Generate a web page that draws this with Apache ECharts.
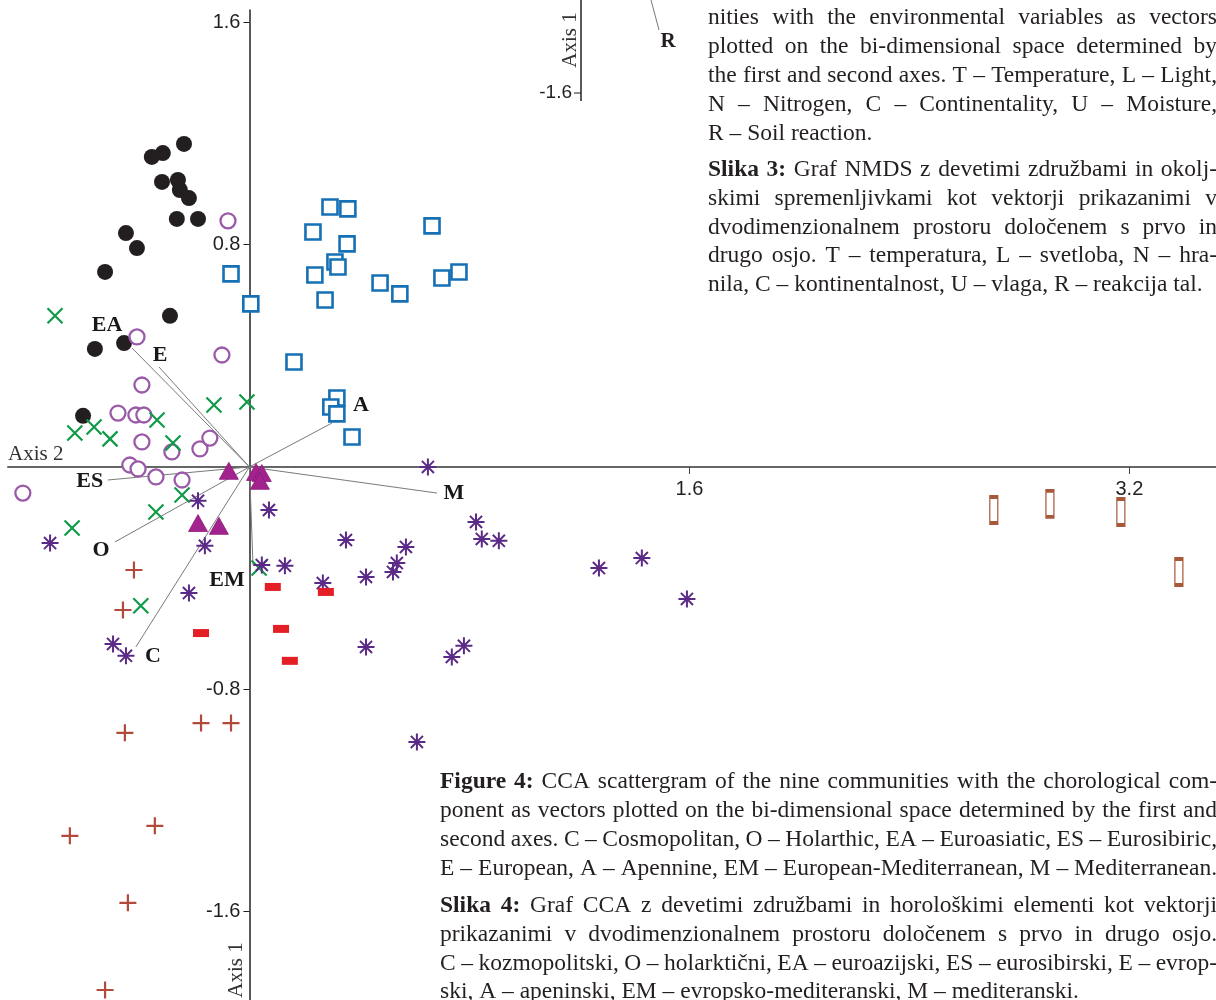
<!DOCTYPE html>
<html><head><meta charset="utf-8">
<script src="https://cdn.jsdelivr.net/npm/echarts@6/dist/echarts.min.js"></script>
<style>html,body{margin:0;padding:0;background:#fff;}#c{width:1216px;height:1000px;}</style>
</head><body><div id="c"></div>
<script>
// ---------- DATA ----------
const xTicks = [1.6, 3.2];
const yTicks = [-1.6, -0.8, 0.8, 1.6];

const vectorNames = ['EA', 'E', 'A', 'ES', 'O', 'C', 'EM', 'M'];
const vectorX = [-0.427, -0.329, 0.300, -0.515, -0.489, -0.413, 0.013, 0.682];
const vectorY = [0.428, 0.360, 0.158, -0.047, -0.270, -0.648, -0.353, -0.094];

const blackDots = [[-0.238,1.163],[-0.315,1.130],[-0.355,1.116],[-0.318,1.026],[-0.260,1.033],[-0.253,0.997],[-0.220,0.968],[-0.264,0.893],[-0.187,0.893],[-0.449,0.842],[-0.409,0.788],[-0.525,0.702],[-0.289,0.544],[-0.562,0.425],[-0.456,0.446],[-0.605,0.184]];
const purpleRings = [[-0.078,0.886],[-0.409,0.468],[-0.100,0.403],[-0.391,0.295],[-0.478,0.194],[-0.413,0.187],[-0.384,0.187],[-0.391,0.090],[-0.282,0.054],[-0.180,0.065],[-0.144,0.104],[-0.435,0.007],[-0.405,-0.007],[-0.340,-0.036],[-0.245,-0.047],[-0.824,-0.094]];
const greenCrosses = [[-0.707,0.544],[-0.129,0.223],[-0.009,0.234],[-0.336,0.169],[-0.565,0.144],[-0.635,0.122],[-0.507,0.101],[-0.278,0.086],[-0.245,-0.101],[-0.340,-0.162],[-0.645,-0.220],[0.035,-0.364],[-0.395,-0.500]];
const blueSquares = [[0.293,0.936],[0.358,0.929],[0.231,0.846],[0.355,0.803],[0.664,0.868],[0.311,0.738],[0.322,0.720],[0.238,0.691],[-0.067,0.695],[0.475,0.662],[0.547,0.623],[0.700,0.680],[0.762,0.702],[0.275,0.601],[0.005,0.587],[0.162,0.378],[0.318,0.248],[0.296,0.216],[0.318,0.191],[0.373,0.108]];
const magentaTriangles = [[-0.075,-0.014],[0.024,-0.018],[0.045,-0.022],[0.038,-0.050],[-0.187,-0.202],[-0.111,-0.212]];
const violetStars = [[0.649,0.000],[0.071,-0.155],[-0.187,-0.122],[-0.162,-0.284],[0.351,-0.263],[0.824,-0.198],[0.845,-0.259],[0.907,-0.266],[0.569,-0.288],[0.536,-0.346],[0.522,-0.378],[0.424,-0.396],[0.267,-0.418],[0.045,-0.353],[0.129,-0.356],[-0.220,-0.454],[0.424,-0.648],[0.780,-0.644],[0.736,-0.684],[0.609,-0.990],[-0.725,-0.274],[-0.496,-0.637],[-0.449,-0.680],[1.271,-0.364],[1.427,-0.328],[1.591,-0.475]];
const redBars = [[0.085,-0.432],[0.278,-0.450],[0.115,-0.583],[-0.176,-0.598],[0.147,-0.698]];
const brownPluses = [[-0.420,-0.371],[-0.460,-0.515],[-0.453,-0.957],[-0.176,-0.922],[-0.067,-0.922],[-0.653,-1.328],[-0.344,-1.292],[-0.442,-1.569],[-0.525,-1.883]];
const brownBars = [[2.707,-0.155],[2.911,-0.133],[3.169,-0.162],[3.380,-0.378]];

// ---------- STYLE / LAYOUT ----------
const SERIF = '"Liberation Serif", "Times New Roman", serif';
const SANS = '"Liberation Sans Narrow", "Liberation Sans", Arial, sans-serif';
const TXT = '#231f20';
const labelOffsets = {EA:[-25,-23], E:[1,-12], A:[29,-18], ES:[-18,1], O:[-14,8], C:[17,9], EM:[-26,15], M:[17,0]};
const W = 1216, H = 1000;
const GRID = {left: 8, right: 0, top: 10, bottom: 0};
const XMIN = -0.878, XMAX = 3.515, YMIN = -1.919, YMAX = 1.645;
const gridW = W - GRID.left - GRID.right, gridH = H - GRID.top - GRID.bottom;
// move the axes (line, ticks, labels) onto the zero of the other axis
const yAxisOffset = -((0 - XMIN) / (XMAX - XMIN)) * gridW;
const xAxisOffset = -((0 - YMIN) / (YMAX - YMIN)) * gridH;

const chart = echarts.init(document.getElementById('c'), null, {renderer: 'canvas'});

// ---------- caption text (justified words) ----------
const mctx = document.createElement('canvas').getContext('2d');
function tw(t, font) { mctx.font = font; return mctx.measureText(t).width; }
const FS = 23.5;
function captionLine(elems, line, x0, x1, y, justify) {
  let fs = FS;
  let words, fonts, widths, total, gap;
  for (let k = 0; k < 10; k++) {
    words = [];
    if (line.b) line.b.split(' ').forEach(w => words.push({w, bold: true}));
    line.t.split(' ').forEach(w => words.push({w, bold: false}));
    fonts = words.map(o => (o.bold ? 'bold ' : '') + fs + 'px ' + SERIF);
    widths = words.map((o, i) => tw(o.w, fonts[i]));
    total = widths.reduce((a, b) => a + b, 0);
    const space = tw(' ', fs + 'px ' + SERIF);
    gap = justify ? (x1 - x0 - total) / (words.length - 1) : space;
    if (gap >= space * 0.7) break;
    fs -= 0.5;
  }
  let x = x0;
  words.forEach((o, i) => {
    elems.push({type: 'text', x: x, y: y, silent: true,
      style: {text: o.w, font: fonts[i], fill: TXT, verticalAlign: 'middle', align: 'left'}});
    x += widths[i] + gap;
  });
}
const topLines = [
  {b: 'Figure 3:', t: 'NMDS scattergram of the nine commu-', y: -12, j: true},
  {t: 'nities with the environmental variables as vectors', y: 18, j: true},
  {t: 'plotted on the bi-dimensional space determined by', y: 47, j: true},
  {t: 'the first and second axes. T – Temperature, L – Light,', y: 76, j: true},
  {t: 'N – Nitrogen, C – Continentality, U – Moisture,', y: 105, j: true},
  {t: 'R – Soil reaction.', y: 134, j: false},
  {b: 'Slika 3:', t: 'Graf NMDS z devetimi združbami in okolj-', y: 170, j: true},
  {t: 'skimi spremenljivkami kot vektorji prikazanimi v', y: 199, j: true},
  {t: 'dvodimenzionalnem prostoru določenem s prvo in', y: 228, j: true},
  {t: 'drugo osjo. T – temperatura, L – svetloba, N – hra-', y: 256, j: true},
  {t: 'nila, C – kontinentalnost, U – vlaga, R – reakcija tal.', y: 285, j: false}
];
const bottomLines = [
  {b: 'Figure 4:', t: 'CCA scattergram of the nine communities with the chorological com-', y: 782, j: true},
  {t: 'ponent as vectors plotted on the bi-dimensional space determined by the first and', y: 811, j: true},
  {t: 'second axes. C – Cosmopolitan, O – Holarthic, EA – Euroasiatic, ES – Eurosibiric,', y: 840, j: true},
  {t: 'E – European, A – Apennine, EM – European-Mediterranean, M – Mediterranean.', y: 869, j: true},
  {b: 'Slika 4:', t: 'Graf CCA z devetimi združbami in horološkimi elementi kot vektorji', y: 906, j: true},
  {t: 'prikazanimi v dvodimenzionalnem prostoru določenem s prvo in drugo osjo.', y: 935, j: true},
  {t: 'C – kozmopolitski, O – holarktični, EA – euroazijski, ES – eurosibirski, E – evrop-', y: 964, j: true},
  {t: 'ski, A – apeninski, EM – evropsko-mediteranski, M – mediteranski.', y: 992, j: false}
];
const graphics = [];
topLines.forEach(l => captionLine(graphics, l, 708, 1217, l.y, l.j));
bottomLines.forEach(l => captionLine(graphics, l, 440, 1217, l.y, l.j));

// axis titles and small inset at top
graphics.push({type: 'text', x: 8, y: 454, silent: true, style: {text: 'Axis 2', font: '21px ' + SERIF, fill: '#333', verticalAlign: 'middle'}});
graphics.push({type: 'text', x: 236, y: 970, rotation: Math.PI / 2, silent: true, style: {text: 'Axis 1', font: '21px ' + SERIF, fill: '#333', align: 'center', verticalAlign: 'middle'}});
graphics.push({type: 'line', silent: true, shape: {x1: 581, y1: 0, x2: 581, y2: 101}, style: {stroke: '#222', lineWidth: 1.5}});
graphics.push({type: 'line', silent: true, shape: {x1: 574, y1: 93, x2: 581, y2: 93}, style: {stroke: '#222', lineWidth: 1}});
graphics.push({type: 'text', x: 572, y: 93, silent: true, style: {text: '-1.6', font: '19px ' + SANS, fill: TXT, align: 'right', verticalAlign: 'middle'}});
graphics.push({type: 'text', x: 570, y: 40, rotation: Math.PI / 2, silent: true, style: {text: 'Axis 1', font: '21px ' + SERIF, fill: '#333', align: 'center', verticalAlign: 'middle'}});
graphics.push({type: 'line', silent: true, shape: {x1: 651, y1: 0, x2: 659, y2: 30}, style: {stroke: '#777', lineWidth: 1}});
graphics.push({type: 'text', x: 668, y: 42, silent: true, style: {text: 'R', font: 'bold 21px ' + SERIF, fill: TXT, align: 'center', verticalAlign: 'middle'}});

// ---------- series ----------
function pts(arr) { return arr.map(p => [p[0], p[1]]); }
const series = [
  {
    type: 'lines', coordinateSystem: 'cartesian2d', silent: true, z: 1,
    lineStyle: {color: '#7a7a7a', width: 1, opacity: 1},
    data: vectorNames.map((n, i) => ({coords: [[0, 0], [vectorX[i], vectorY[i]]]}))
  },
  {type: 'scatter', name: 'black', symbol: 'circle', symbolSize: 16, z: 3,
    itemStyle: {color: '#231f20', opacity: 1}, data: pts(blackDots)},
  {type: 'scatter', name: 'rings', symbol: 'circle', symbolSize: 15, z: 3,
    itemStyle: {color: '#ffffff', borderColor: '#9a5aa8', borderWidth: 2.3, opacity: 1}, data: pts(purpleRings)},
  {type: 'scatter', name: 'cross', symbol: 'path://M0,0L16,16M16,0L0,16', symbolSize: 15, z: 3,
    itemStyle: {color: 'rgba(0,0,0,0)', borderColor: '#109a4a', borderWidth: 2.2, opacity: 1}, data: pts(greenCrosses)},
  {type: 'scatter', name: 'squares', symbol: 'rect', symbolSize: 15, z: 3,
    itemStyle: {color: '#ffffff', borderColor: '#1570b5', borderWidth: 2.6, opacity: 1}, data: pts(blueSquares)},
  {type: 'scatter', name: 'tri', symbol: 'triangle', symbolSize: [19, 17], z: 4,
    itemStyle: {color: '#a3238e', borderColor: '#8e1c7b', borderWidth: 0.8, opacity: 1}, data: pts(magentaTriangles)},
  {type: 'scatter', name: 'stars', symbol: 'path://M8,0L8,16M0,8L16,8M2.3,2.3L13.7,13.7M13.7,2.3L2.3,13.7', symbolSize: 17, z: 3,
    itemStyle: {color: 'rgba(0,0,0,0)', borderColor: '#5b2a86', borderWidth: 2, opacity: 1}, data: pts(violetStars)},
  {type: 'scatter', name: 'redbars', symbol: 'rect', symbolSize: [16, 8], z: 3,
    itemStyle: {color: '#e31e24', opacity: 1}, data: pts(redBars)},
  {type: 'scatter', name: 'plus', symbol: 'path://M8,0L8,16M0,8L16,8', symbolSize: 17, z: 3,
    itemStyle: {color: 'rgba(0,0,0,0)', borderColor: '#b24a3b', borderWidth: 2.2, opacity: 1}, data: pts(brownPluses)},
  {type: 'scatter', name: 'tallbars', symbol: 'rect', symbolSize: [8, 26], z: 3,
    itemStyle: {color: '#ffffff', borderColor: '#a65a3a', borderWidth: 2.2, opacity: 1}, data: pts(brownBars)},
  {type: 'scatter', name: 'vlabels', symbol: 'circle', symbolSize: 2, z: 5, silent: true,
    itemStyle: {color: 'rgba(255,255,255,0)'},
    label: {show: true, position: [1, 1], align: 'center', verticalAlign: 'middle', formatter: p => p.name,
      color: '#1a1718', fontFamily: SERIF, fontWeight: 'bold', fontSize: 22, opacity: 1},
    data: vectorNames.map((n, i) => ({name: n, value: [vectorX[i], vectorY[i]], label: {offset: labelOffsets[n]}}))}
];

const option = {
  animation: false,
  backgroundColor: '#ffffff',
  grid: {left: GRID.left, right: GRID.right, top: GRID.top, bottom: GRID.bottom, containLabel: false, outerBoundsMode: 'none'},
  xAxis: {
    type: 'value', min: XMIN, max: XMAX, position: 'bottom', offset: xAxisOffset,
    splitLine: {show: false},
    axisLine: {show: true, onZero: false, lineStyle: {color: '#666', width: 2}},
    axisTick: {show: true, customValues: xTicks, length: 7, lineStyle: {color: '#444', width: 1}},
    axisLabel: {show: true, customValues: xTicks, margin: 13, color: TXT, fontSize: 20, fontFamily: SANS, showMinLabel: true, showMaxLabel: true, hideOverlap: false}
  },
  yAxis: {
    type: 'value', min: YMIN, max: YMAX, position: 'left', offset: yAxisOffset,
    splitLine: {show: false},
    axisLine: {show: true, onZero: false, lineStyle: {color: '#222', width: 1.5}},
    axisTick: {show: true, customValues: yTicks, length: 6, lineStyle: {color: '#222', width: 1}},
    axisLabel: {show: true, customValues: yTicks, margin: 9, color: TXT, fontSize: 20, fontFamily: SANS, showMinLabel: true, showMaxLabel: true, hideOverlap: false}
  },
  series: series,
  graphic: graphics
};
chart.setOption(option);
</script>
</body></html>
